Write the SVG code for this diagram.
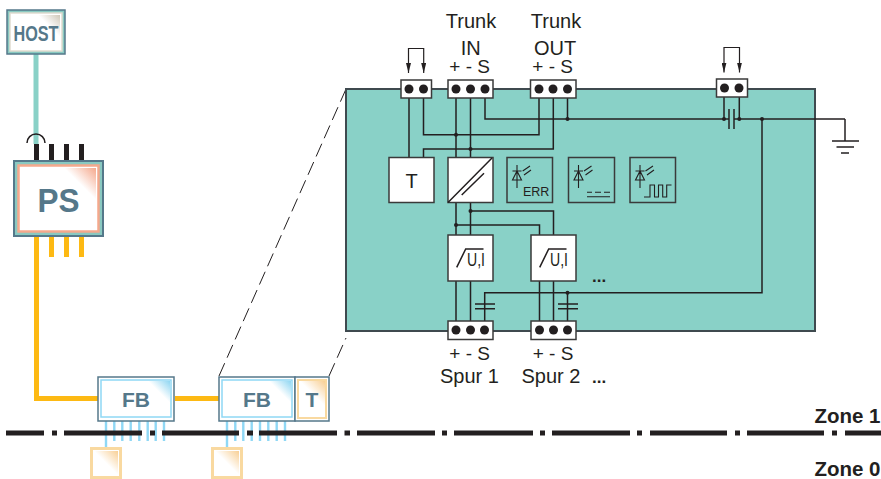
<svg xmlns="http://www.w3.org/2000/svg" width="881" height="479" viewBox="0 0 881 479">
<defs>
<linearGradient id="gH" x1="1" y1="0" x2="0.5" y2="0.5"><stop offset="0" stop-color="#cfc8b8"/><stop offset="1" stop-color="#fff"/></linearGradient>
<linearGradient id="gP" x1="1" y1="0" x2="0.5" y2="0.5"><stop offset="0" stop-color="#f5a88c"/><stop offset="1" stop-color="#fff"/></linearGradient>
<linearGradient id="gF" x1="1" y1="0" x2="0.5" y2="0.5"><stop offset="0" stop-color="#8fd6f2"/><stop offset="1" stop-color="#fff"/></linearGradient>
<linearGradient id="gT" x1="1" y1="0" x2="0.5" y2="0.5"><stop offset="0" stop-color="#f8cf94"/><stop offset="1" stop-color="#fff"/></linearGradient>
<marker id="arr" markerUnits="userSpaceOnUse" markerWidth="10" markerHeight="5" refX="10" refY="2.500" orient="auto-start-reverse" viewBox="0 0 10 5"><path d="M0 0L10 2.500L0 5Z" fill="#231f20"/></marker>
</defs>
<style>
text{font-family:"Liberation Sans",Arial,sans-serif;fill:#231f20}
.lbl{font-size:20px;text-anchor:middle}
.pm{font-size:19px;text-anchor:middle}
.bl{font-weight:bold;fill:#55788a;text-anchor:middle}
.w{fill:none;stroke:#231f20;stroke-width:1.5}
.thin{fill:none;stroke:#231f20;stroke-width:1.1}
.box{fill:#fff;stroke:#3a3a3a;stroke-width:1.5}
.led{fill:#89d1c7;stroke:#3a3a3a;stroke-width:1.5}
.term{fill:#fff;stroke:#3a3a3a;stroke-width:1.5}
.dot{fill:#231f20}
.blue{stroke:#8fd8f5;stroke-width:2.4;fill:none}
.zone{font-size:20.500px;font-weight:bold;text-anchor:end}
.or{fill:#fdb913}
.bk{fill:#231f20}
.ell{font-size:17px;font-weight:bold}
</style>

<g id="connectors">
<rect x="33.500" y="54" width="5" height="90" fill="#89d1c7"/>
<path d="M27 143A9 9 0 0 1 45 143" class="w"/>
<rect x="34" y="144" width="5" height="16" class="bk"/>
<rect x="49" y="144" width="5" height="16" class="bk"/>
<rect x="64" y="144" width="5" height="16" class="bk"/>
<rect x="79" y="144" width="5" height="16" class="bk"/>
<path d="M36.500 236V398.500H98M175 398.500H219" fill="none" stroke="#fdb913" stroke-width="5"/>
<rect x="49" y="236" width="5" height="21" class="or"/>
<rect x="64" y="236" width="5" height="21" class="or"/>
<rect x="79" y="236" width="5" height="21" class="or"/>
<path d="M106 421V447M114.300 421V441M122.300 421V441M130.700 421V441M139.300 421V441M147.700 421V441M155.700 421V441M164 421V441M227 421V447M235.300 421V441M243.300 421V441M251.700 421V441M260 421V441M268.300 421V441M276.700 421V441M285 421V441" class="blue"/>
<path d="M6 433H44M52 433H57M64 433H142M150 433H155M162 433H239M247 433H253M259 433H337M344.500 433H350M357 433H435M442 433H447M454 433H533M540 433H545M552 433H630M637 433H642M650 433H727M735 433H740M747 433H824M832 433H837M845 433H881" fill="none" stroke="#231f20" stroke-width="5"/>
<path d="M219 376L346 89" fill="none" stroke="#231f20" stroke-width="1" stroke-dasharray="14 6"/>
<path d="M329 376L346 338" fill="none" stroke="#231f20" stroke-width="1" stroke-dasharray="14 6"/>
</g>

<g id="enclosure"><rect x="346" y="89" width="469" height="242" fill="#89d1c7" stroke="#3f4a4f" stroke-width="2"/></g>

<g id="wiring" class="w">
<path d="M409 98V157M423.500 98V134.700H539V98M485 98V119H729M734 119H845M567.500 98V119M456 98V157M470.500 98V157M423.500 157V149H553.300V98"/>
<path d="M456 203V235M470.500 203V235M456 225H539.500V235M470.500 211H553.500V235"/>
<path d="M456 281V321M470.500 281V321M539.500 281V321M553.500 281V321M484.700 321V292.700H762V119"/>
<path d="M567.500 292.700V321"/>
<path d="M475 304H495M475 308.700H495M558 304H578M558 308.700H578"/>
<path d="M724 97V119M739.300 97V119M729 109V129M734 109V129"/>
<path d="M845 119V141"/>
<path d="M832 141H859M836.500 147H854M841 153H849"/>
</g>
<g id="junctions" class="dot">
<circle cx="456" cy="134.700" r="2"/><circle cx="470.500" cy="149" r="2"/><circle cx="567.500" cy="119" r="2"/><circle cx="724" cy="119" r="2"/><circle cx="739.300" cy="119" r="2"/><circle cx="762" cy="119" r="2"/><circle cx="456" cy="225" r="2"/><circle cx="470.500" cy="211" r="2"/><circle cx="567.500" cy="292.700" r="2"/>
</g>

<g id="host"><rect x="7" y="10" width="58" height="44" fill="#89c9c1" stroke="#55788a" stroke-width="1.500"/><rect x="10" y="13" width="52" height="38" fill="#fff" stroke="#e0dccf" stroke-width="1.500"/><polygon points="38,15 60,15 60,37" fill="url(#gH)"/><text x="36" y="40.500" class="bl" style="font-size:22px" textLength="45" lengthAdjust="spacingAndGlyphs">HOST</text></g>

<g id="ps"><rect x="14" y="161" width="89" height="75" fill="#89c9c1" stroke="#55788a" stroke-width="2"/><rect x="18.500" y="165.500" width="80" height="66" fill="#fff" stroke="#f5a88c" stroke-width="2.500"/><polygon points="64,168 96,168 96,200" fill="url(#gP)"/><text x="58.500" y="211.500" class="bl" style="font-size:34px" textLength="42" lengthAdjust="spacingAndGlyphs">PS</text></g>

<g id="fb1"><rect x="98" y="377" width="76" height="44" fill="#fff" stroke="#55788a" stroke-width="1.500"/><rect x="101" y="380" width="70" height="37" fill="#fff" stroke="#8fd8f5" stroke-width="1.500"/><polygon points="148,381 170,381 170,403" fill="url(#gF)"/><text x="136" y="406.500" class="bl" style="font-size:21px">FB</text></g>
<g id="fb2"><rect x="219" y="377" width="76" height="44" fill="#fff" stroke="#55788a" stroke-width="1.500"/><rect x="222" y="380" width="70" height="37" fill="#fff" stroke="#8fd8f5" stroke-width="1.500"/><polygon points="269,381 291,381 291,403" fill="url(#gF)"/><text x="257" y="406.500" class="bl" style="font-size:21px">FB</text></g>
<g id="t-small"><rect x="295" y="377" width="34" height="44" fill="#fff" stroke="#55788a" stroke-width="1.500"/><rect x="298" y="380" width="28" height="38" fill="#fff" stroke="#f9d9a0" stroke-width="2"/><polygon points="300,381 325,381 325,406" fill="url(#gT)"/><text x="312" y="406.500" class="bl" style="font-size:21px">T</text></g>
<g id="dev1"><rect x="91.500" y="448.500" width="29" height="29" fill="#fff" stroke="#f9d9a0" stroke-width="3"/><polygon points="94,451 118,451 118,475" fill="url(#gT)"/></g>
<g id="dev2"><rect x="212.500" y="448.500" width="29" height="29" fill="#fff" stroke="#f9d9a0" stroke-width="3"/><polygon points="215,451 239,451 239,475" fill="url(#gT)"/></g>

<g id="jumper1"><path d="M408.500 73V48.500H423.700V73" class="w" style="stroke-width:1.200" marker-start="url(#arr)" marker-end="url(#arr)"/><rect x="401" y="80" width="30.500" height="18" class="term"/><circle cx="409" cy="89" r="4.500" class="dot"/><circle cx="423.500" cy="89" r="4.500" class="dot"/></g>
<g id="jumper2"><path d="M724 72.500V47.500H739.500V72.500" class="w" style="stroke-width:1.200" marker-start="url(#arr)" marker-end="url(#arr)"/><rect x="716.500" y="79" width="31" height="18" class="term"/><circle cx="724.500" cy="88" r="4.500" class="dot"/><circle cx="739" cy="88" r="4.500" class="dot"/></g>
<g id="trunk-in"><rect x="448" y="80" width="45" height="18" class="term"/><circle cx="456" cy="89" r="4.500" class="dot"/><circle cx="470.500" cy="89" r="4.500" class="dot"/><circle cx="485" cy="89" r="4.500" class="dot"/><text x="471" y="28.300" class="lbl">Trunk</text><text x="470.700" y="55" class="lbl">IN</text><text x="469.700" y="73" class="pm">+ - S</text></g>
<g id="trunk-out"><rect x="530.500" y="80" width="45.500" height="18" class="term"/><circle cx="539" cy="89" r="4.500" class="dot"/><circle cx="553" cy="89" r="4.500" class="dot"/><circle cx="567.500" cy="89" r="4.500" class="dot"/><text x="556" y="28.300" class="lbl">Trunk</text><text x="555" y="55" class="lbl">OUT</text><text x="552.700" y="73" class="pm">+ - S</text></g>

<g id="t-box"><rect x="389" y="157.500" width="45" height="45" class="box"/><text x="411.500" y="187.500" class="lbl">T</text></g>
<g id="conv"><rect x="448" y="157.500" width="45" height="45" class="box"/><path d="M448 202.500L492 158M461.700 195L484 173.300" class="w"/></g>
<g id="led-err"><rect x="507" y="157.500" width="45.500" height="45" class="led"/><path class="thin" d="M517 165V188M512.500 171H521.500M512.500 180H521.500L517 171ZM522.700 171L530 166M524 175L531 170"/><text x="523" y="195.500" style="font-size:12.500px">ERR</text></g>
<g id="led-static"><rect x="568.500" y="157.500" width="46" height="45" class="led"/><path class="thin" d="M578.500 165V188M574 171H583M574 180H583L578.500 171ZM584 171L591.500 166M585.500 175L592.500 170M587 192.300H592M595 192.300H601M604 192.300H610M587 196.700H610"/></g>
<g id="led-pulse"><rect x="630" y="157.500" width="45.500" height="45" class="led"/><path class="thin" d="M640 165V188M635.500 171H644.500M635.500 180H644.500L640 171ZM645.500 171L653 166M647 175L654 170M644 197H650V185H654.500V197H658.500V185H662.700V197H666.700V185H671.500"/></g>

<g id="spur-box1"><rect x="448" y="235" width="45" height="46" class="box"/><path d="M456.700 267.300L465.700 249H483.500" class="w"/><text x="467" y="265.500" style="font-size:19px" textLength="18" lengthAdjust="spacingAndGlyphs">U,I</text></g>
<g id="spur-box2"><rect x="531" y="235" width="45" height="46" class="box"/><path d="M539.700 267.300L548.700 249H566.500" class="w"/><text x="550" y="265.500" style="font-size:19px" textLength="18" lengthAdjust="spacingAndGlyphs">U,I</text></g>
<text x="592" y="281.500" class="ell">...</text>

<g id="spur1"><rect x="448" y="321" width="45" height="18.500" class="term"/><circle cx="456" cy="330" r="4.500" class="dot"/><circle cx="470.500" cy="330" r="4.500" class="dot"/><circle cx="484.500" cy="330" r="4.500" class="dot"/><text x="469.700" y="359.500" class="pm">+ - S</text><text x="469.500" y="383" class="lbl">Spur 1</text></g>
<g id="spur2"><rect x="531" y="321" width="45" height="18.500" class="term"/><circle cx="539.500" cy="330" r="4.500" class="dot"/><circle cx="553.500" cy="330" r="4.500" class="dot"/><circle cx="567.500" cy="330" r="4.500" class="dot"/><text x="553" y="359.500" class="pm">+ - S</text><text x="551" y="383" class="lbl">Spur 2</text></g>
<text x="592" y="382.500" class="ell">...</text>

<text x="880.500" y="422.500" class="zone">Zone 1</text>
<text x="880.500" y="476" class="zone">Zone 0</text>
</svg>
